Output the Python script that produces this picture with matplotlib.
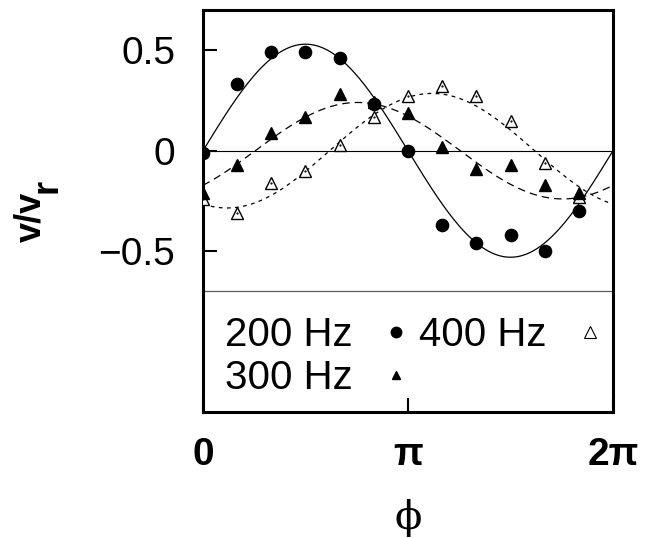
import numpy as np
import matplotlib
matplotlib.use('Agg')
import matplotlib.pyplot as plt
from matplotlib.lines import Line2D

plt.rcParams['font.family'] = ['Liberation Sans', 'DejaVu Sans']

# phase of the drive (degrees) and measured v/v_r for each frequency
phase_deg = [0, 30, 60, 90, 120, 150, 180, 210, 240, 270, 300, 330]
v_200 = [-0.01, 0.33, 0.49, 0.49, 0.46, 0.23, 0.00, -0.37, -0.46, -0.42, -0.50, -0.30]
v_300 = [-0.21, -0.07, 0.09, 0.17, 0.28, 0.24, 0.19, 0.02, -0.09, -0.07, -0.17, -0.21]
v_400 = [-0.24, -0.31, -0.16, -0.10, 0.03, 0.17, 0.27, 0.32, 0.27, 0.15, -0.06, -0.23]

# sine fits: amplitude and phase lag (rad)
fit_amp = {'200': 0.53, '300': 0.24, '400': 0.285}
fit_lag = {'200': 0.0, '300': 0.80, '400': 1.94}

phi = np.deg2rad(phase_deg)
phi_fine = np.linspace(0, 2 * np.pi, 400)

fig = plt.figure(figsize=(6.55, 5.38), dpi=100)
ax = fig.add_axes([0.3099, 0.2342, 0.626, 0.7472])

# fitted curves
ax.plot(phi_fine, fit_amp['200'] * np.sin(phi_fine - fit_lag['200']), color='k', lw=0.9, zorder=2)
ax.plot(phi_fine, fit_amp['300'] * np.sin(phi_fine - fit_lag['300']), color='k', lw=0.9,
        dashes=(6, 4), zorder=2)
ax.plot(phi_fine, fit_amp['400'] * np.sin(phi_fine - fit_lag['400']), color='k', lw=0.9,
        dashes=(3, 3.5), zorder=2)

ax.axhline(0, color='k', lw=0.8, zorder=1)
ax.axhline(-0.7, color='0.35', lw=0.9, zorder=1)

# data points
ax.plot(phi, v_200, 'o', color='k', ms=8.8, ls='none', zorder=4)
ax.plot(phi, v_300, '^', color='k', ms=8.2, ls='none', zorder=4)
ax.plot(phi, v_400, '^', mfc='white', mec='k', mew=1.0, ms=8.6, ls='none', zorder=3)
ax.plot(phi, v_400, '.', color='k', ms=1.2, ls='none', zorder=3)

ax.set_xlim(0, 2 * np.pi)
ax.set_ylim(-1.3, 0.7)

ax.set_xticks([0, np.pi, 2 * np.pi])
ax.set_xticklabels(['0', 'π', '2π'], fontsize=28, fontweight='bold')
ax.set_yticks([-0.5, 0, 0.5])
ax.set_yticklabels(['\u22120.5', '0', '0.5'], fontsize=28)

ax.tick_params(axis='both', direction='in', length=10, width=1.5,
               top=False, right=False)
ax.tick_params(axis='y', pad=20)
ax.tick_params(axis='x', pad=18)

for s in ax.spines.values():
    s.set_linewidth(2.2)

ax.set_xlabel('ϕ', fontsize=29, family='DejaVu Serif', labelpad=19)

# y label with same-size lowered subscript
fig.text(0.047, 0.597, 'v/v', rotation=90, fontsize=26, fontweight='bold',
         ha='center', va='center')
fig.text(0.072, 0.655, 'r', rotation=90, fontsize=26, fontweight='bold',
         ha='center', va='center')

handles = [
    Line2D([], [], marker='o', color='k', ls='none', ms=7.5),
    Line2D([], [], marker='^', color='k', ls='none', ms=6),
    Line2D([], [], marker='^', mfc='white', mec='k', mew=0.8, ls='none', ms=8),
]
labels = ['200 Hz', '300 Hz', '400 Hz']
ax.legend(handles, labels, ncol=2, markerfirst=False, frameon=False,
          loc='upper left', bbox_to_anchor=(0.054, 0.238), fontsize=29,
          handlelength=0.8, handletextpad=0.68, columnspacing=0.15,
          labelspacing=0.12, borderpad=0, borderaxespad=0)

fig.savefig('out.png', dpi=100)
